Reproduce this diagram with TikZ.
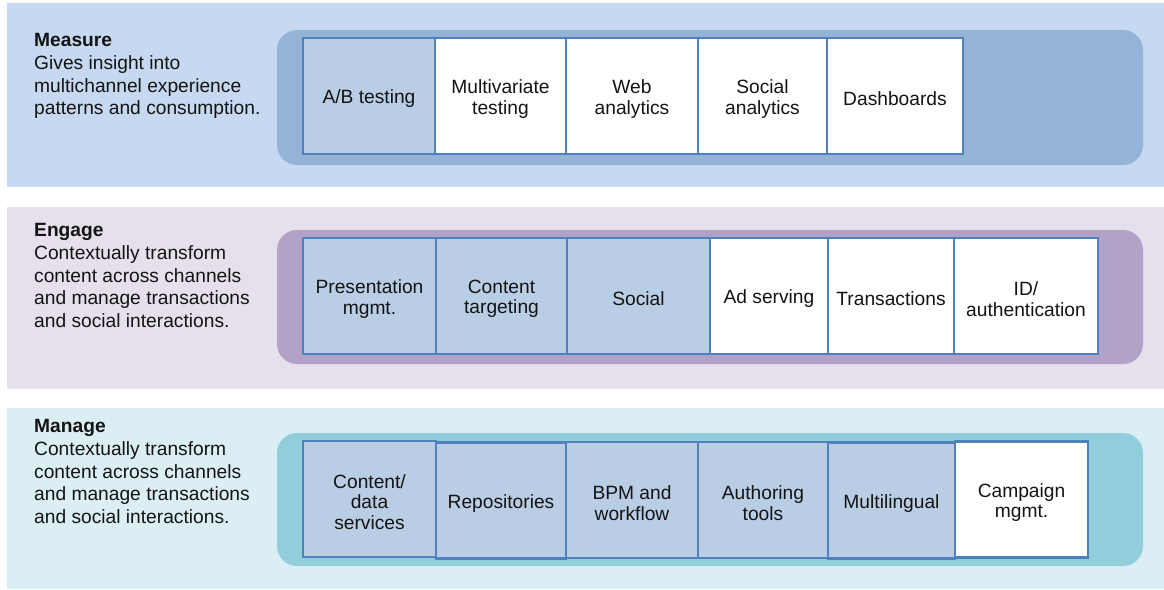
\documentclass[tikz,border=0pt]{standalone}
\usepackage{fontspec}
\setmainfont{Liberation Sans}
\definecolor{measurebg}{HTML}{C6D9F0}
\definecolor{measurerail}{HTML}{95B3D7}
\definecolor{engagebg}{HTML}{E5E0EC}
\definecolor{engagerail}{HTML}{B2A2C7}
\definecolor{managebg}{HTML}{DBEEF3}
\definecolor{managerail}{HTML}{92CDDC}
\definecolor{cellfill}{HTML}{B9CDE5}
\definecolor{cellline}{HTML}{4F81BD}
\definecolor{ink}{HTML}{141414}
\tikzset{
  band/.style={fill=#1, draw=none},
  rail/.style={fill=#1, draw=none, rounded corners=20pt},
  cell/.style={draw=cellline, line width=2.3pt, fill=#1,
    minimum height=116pt, inner sep=0pt},
  cell/.default=cellfill,
  celltext/.style={align=center, inner sep=0pt, text=ink, yshift=-3pt,
    font=\fontsize{19.2}{20.5}\selectfont},
  blurb/.style={anchor=north west, align=left, inner sep=0pt, text=ink,
    font=\fontsize{19.2}{22.8}\selectfont}
}
\begin{document}
\begin{tikzpicture}[x=1pt,y=-1pt]
\useasboundingbox (0,0) rectangle (1164,589);

% background bands
\path[band=measurebg] (7,3) rectangle (1164,187);
\path[band=engagebg] (7,207) rectangle (1164,389);
\path[band=managebg] (7,408) rectangle (1164,589);

% rounded rails behind the capability cells
\path[rail=measurerail] (277,30) rectangle (1143,165);
\path[rail=engagerail] (277,230) rectangle (1143,364);
\path[rail=managerail] (277,433) rectangle (1143,566);

% layer descriptions
\node[blurb] (measuretxt) at (34,33) {\textbf{Measure}\\Gives insight into\\multichannel experience\\patterns and consumption.};
\node[blurb] (engagetxt) at (34,223) {\textbf{Engage}\\Contextually transform\\content across channels\\and manage transactions\\and social interactions.};
\node[blurb] (managetxt) at (34,419) {\textbf{Manage}\\Contextually transform\\content across channels\\and manage transactions\\and social interactions.};

% Measure cells
\node[cell, minimum width=132pt, label={[celltext]center:{A/B testing}}] (ab) at (369,96) {};
\node[cell=white, minimum width=131pt, label={[celltext]center:{Multivariate\\testing}}] (mvt) at (500.5,96) {};
\node[cell=white, minimum width=132pt, label={[celltext]center:{Web\\analytics}}] (web) at (632,96) {};
\node[cell=white, minimum width=129pt, label={[celltext]center:{Social\\analytics}}] (soc) at (762.5,96) {};
\node[cell=white, minimum width=136pt, label={[celltext]center:{Dashboards}}] (dash) at (895,96) {};

% Engage cells
\node[cell, minimum width=133pt, label={[celltext]center:{Presentation\\mgmt.}}] (pres) at (369.5,296) {};
\node[cell, minimum width=131pt, label={[celltext]center:{Content\\targeting}}] (targ) at (501.5,296) {};
\node[cell, minimum width=143pt, label={[celltext]center:{Social}}] (social) at (638.5,296) {};
\node[cell=white, minimum width=118pt, label={[celltext]center:{Ad serving}}] (ad) at (769,296) {};
\node[cell=white, minimum width=126pt, label={[celltext]center:{Transactions}}] (trans) at (891,296) {};
\node[cell=white, minimum width=144pt, label={[celltext]center:{ID/\\authentication}}] (auth) at (1026,296) {};

% Manage cells
\node[cell, minimum width=133pt, label={[celltext]center:{Content/\\data\\services}}] (data) at (369.5,499) {};
\node[cell, minimum width=130pt, label={[celltext]center:{Repositories}}] (repo) at (501,500.5) {};
\node[cell, minimum width=132pt, label={[celltext]center:{BPM and\\workflow}}] (bpm) at (632,500) {};
\node[cell, minimum width=130pt, label={[celltext]center:{Authoring\\tools}}] (author) at (763,500) {};
\node[cell, minimum width=127pt, label={[celltext]center:{Multilingual}}] (multi) at (891.5,500.5) {};
\node[cell=white, minimum width=133pt, label={[celltext]center:{Campaign\\mgmt.}}] (camp) at (1021.5,499.5) {};
\end{tikzpicture}
\end{document}
